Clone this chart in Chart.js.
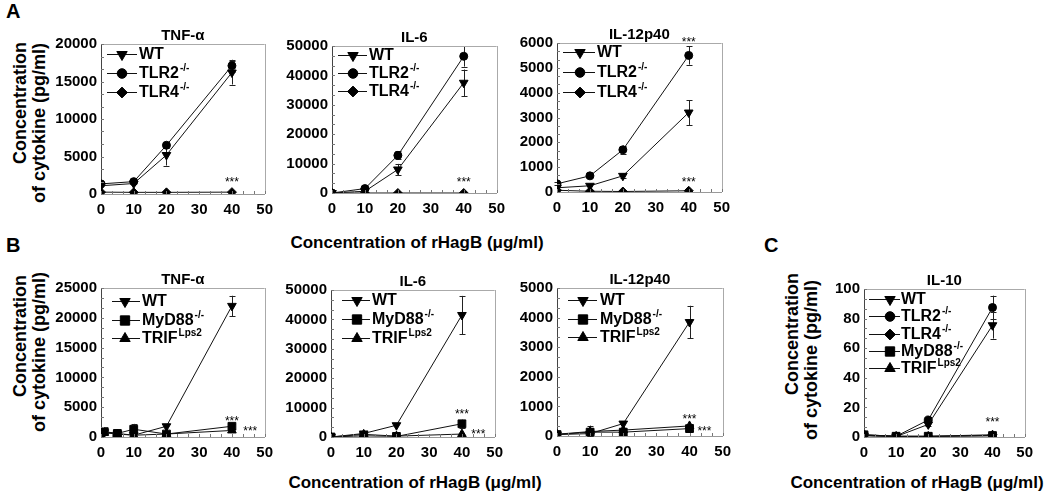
<!DOCTYPE html>
<html>
<head>
<meta charset="utf-8">
<script src="https://cdn.jsdelivr.net/npm/chart.js"></script>
<style>
  body { margin:0; background:#fff; width:1050px; height:502px; position:relative; overflow:hidden;
         font-family:"Liberation Sans", Arial, sans-serif; font-weight:bold; color:#000; }
  canvas { position:absolute; }
  .t { position:absolute; white-space:nowrap; transform:translate(-50%,-50%); }
  .lbl { font-size:17px; }
  .v { position:absolute; white-space:nowrap; font-size:18px; transform:translate(-50%,-50%) rotate(-90deg); }
  .letter { position:absolute; font-size:20px; }
</style>
</head>
<body>

<div class="letter" style="left:6px;top:0px">A</div>
<div class="letter" style="left:6px;top:234px">B</div>
<div class="letter" style="left:764px;top:234px">C</div>

<div class="v" style="left:20px;top:103px">Concentration</div>
<div class="v" style="left:39px;top:123px">of cytokine (pg/ml)</div>
<div class="v" style="left:20px;top:336px">Concentration</div>
<div class="v" style="left:39px;top:352px">of cytokine (pg/ml)</div>
<div class="v" style="left:792px;top:334px">Concentration</div>
<div class="v" style="left:811px;top:360px">of cytokine (pg/ml)</div>

<div class="t lbl" style="left:417px;top:243px">Concentration of rHagB (μg/ml)</div>
<div class="t lbl" style="left:415px;top:483px">Concentration of rHagB (μg/ml)</div>
<div class="t lbl" style="left:917px;top:483px">Concentration of rHagB (μg/ml)</div>

<script>
// ---- data ----
var doses = [0, 10, 20, 40];
var dosesB1 = [0, 1, 5, 10, 20, 40];

// A - TNF-a
var tnfA_WT = [1100, 1400, 5200, 16200];
var tnfA_WT_err = [0, 0, 1400, 1600];
var tnfA_TLR2 = [1350, 1650, 6500, 17100];
var tnfA_TLR2_err = [0, 0, 300, 800];
var tnfA_TLR4 = [250, 220, 220, 250];

// A - IL-6
var il6A_WT = [0, 600, 8000, 37500];
var il6A_WT_err = [0, 300, 1900, 4500];
var il6A_TLR2 = [0, 1500, 12800, 46500];
var il6A_TLR2_err = [0, 0, 1400, 3500];
var il6A_TLR4 = [0, 0, 0, 0];

// A - IL-12p40
var il12A_WT = [170, 250, 650, 3200];
var il12A_WT_err = [0, 0, 80, 500];
var il12A_TLR2 = [330, 650, 1700, 5500];
var il12A_TLR2_err = [60, 50, 170, 370];
var il12A_TLR4 = [70, 30, 20, 50];

// B - TNF-a
var tnfB_WT = [300, 800, 600, 300, 1800, 22000];
var tnfB_WT_err = [0, 0, 0, 0, 0, 1700];
var tnfB_MyD88 = [400, 900, 600, 1300, 500, 1800];
var tnfB_MyD88_err = [0, 0, 0, 900, 0, 400];
var tnfB_TRIF = [200, 700, 500, 300, 500, 1100];
var tnfB_TRIF_err = [0, 0, 0, 0, 0, 300];

// B - IL-6
var il6B_WT = [0, 1200, 4000, 41500];
var il6B_WT_err = [0, 700, 0, 6500];
var il6B_MyD88 = [0, 400, 200, 4500];
var il6B_MyD88_err = [0, 0, 0, 1400];
var il6B_TRIF = [0, 900, 300, 1000];

// B - IL-12p40
var il12B_WT = [50, 80, 420, 3850];
var il12B_WT_err = [0, 0, 0, 550];
var il12B_MyD88 = [50, 130, 130, 250];
var il12B_MyD88_err = [0, 150, 0, 80];
var il12B_TRIF = [60, 150, 200, 340];
var il12B_TRIF_err = [0, 200, 0, 80];

// C - IL-10
var il10_WT = [1, 0.3, 8.5, 75.5];
var il10_WT_err = [0, 0, 1, 9];
var il10_TLR2 = [1.5, 0.5, 11.5, 87.5];
var il10_TLR2_err = [0, 0, 1, 8];
var il10_TLR4 = [1, 0.5, 0.5, 1.5];
var il10_MyD88 = [1.5, 0.5, 0.5, 1];
var il10_TRIF = [1, 0.3, 0.3, 0.8];

// significance marks [x, y] in data units
var starsA1 = [[40, 1500]];
var starsA2 = [[40, 3400]];
var starsA3 = [[40, 6000], [40, 380]];
var starsB1 = [[40, 2600], [45.6, 850]];
var starsB2 = [[40, 7600], [45, 700]];
var starsB3 = [[40, 560], [44.5, 130]];
var starsC = [[40, 9.5]];

var markers = {
  WT:    {pointStyle: 'triangle', rotation: 180, radius: 5},
  TLR2:  {pointStyle: 'circle',   rotation: 0,   radius: 4},
  TLR4:  {pointStyle: 'rectRot',  rotation: 0,   radius: 4.5},
  MyD88: {pointStyle: 'rect',     rotation: 0,   radius: 5.5},
  TRIF:  {pointStyle: 'triangle', rotation: 0,   radius: 5}
};
var sups = {WT: '', TLR2: '-/-', TLR4: '-/-', MyD88: '-/-', TRIF: 'Lps2'};

var FONT = '"Liberation Sans", Arial, sans-serif';

function drawMarker(ctx, m, x, y, scale) {
  if (Chart.helpers && Chart.helpers.drawPoint) {
    Chart.helpers.drawPoint(ctx, {pointStyle: m.pointStyle, rotation: m.rotation, radius: m.radius * scale, borderWidth: 1}, x, y);
  }
}

var decor = {
  id: 'decor',
  beforeDatasetsDraw: function (chart, args, o) {
    var ctx = chart.ctx, xs = chart.scales.x, ys = chart.scales.y;
    ctx.save();
    ctx.strokeStyle = '#222';
    ctx.lineWidth = 1;
    chart.data.datasets.forEach(function (ds) {
      if (!ds.errs) return;
      ds.data.forEach(function (p, j) {
        var e = ds.errs[j];
        if (!e) return;
        var px = Math.round(xs.getPixelForValue(p.x)) + 0.5;
        var y1 = ys.getPixelForValue(p.y + e), y2 = ys.getPixelForValue(Math.max(p.y - e, 0));
        ctx.beginPath();
        ctx.moveTo(px, y1); ctx.lineTo(px, y2);
        ctx.moveTo(px - 3, Math.round(y1) + 0.5); ctx.lineTo(px + 3, Math.round(y1) + 0.5);
        ctx.moveTo(px - 3, Math.round(y2) + 0.5); ctx.lineTo(px + 3, Math.round(y2) + 0.5);
        ctx.stroke();
      });
    });
    ctx.restore();
  },
  afterDraw: function (chart, args, o) {
    var ctx = chart.ctx, a = chart.chartArea, xs = chart.scales.x, ys = chart.scales.y;
    ctx.save();
    // frame top / right
    ctx.strokeStyle = '#aaa';
    ctx.lineWidth = 1;
    ctx.beginPath();
    ctx.moveTo(a.left, Math.round(a.top) + 0.5); ctx.lineTo(a.right, Math.round(a.top) + 0.5);
    ctx.moveTo(Math.round(a.right) + 0.5, a.top); ctx.lineTo(Math.round(a.right) + 0.5, a.bottom);
    ctx.stroke();
    // minor ticks
    ctx.strokeStyle = '#777';
    ctx.beginPath();
    for (var v = 0; v <= 50.01; v += 10 / 3) {
      var px = Math.round(xs.getPixelForValue(v)) + 0.5;
      ctx.moveTo(px, a.bottom); ctx.lineTo(px, a.bottom - 3);
    }
    var st = o.yStep / 3;
    for (var w = 0; w <= ys.max + 1e-6; w += st) {
      var py = Math.round(ys.getPixelForValue(w)) + 0.5;
      ctx.moveTo(a.left, py); ctx.lineTo(a.left + 3, py);
    }
    ctx.stroke();
    // title
    ctx.fillStyle = '#000';
    ctx.font = 'bold 15px ' + FONT;
    ctx.textAlign = 'center';
    ctx.textBaseline = 'middle';
    ctx.fillText(o.title, (a.left + a.right) / 2, a.top - 8);
    // stars
    ctx.font = '12px ' + FONT;
    o.stars.forEach(function (s) {
      ctx.fillText('***', xs.getPixelForValue(s[0]), ys.getPixelForValue(s[1]));
    });
    // legend
    var L = o.legend;
    chart.data.datasets.forEach(function (ds, i) {
      var y = Math.round(a.top + L.y0 + i * L.gap) + 0.5;
      ctx.strokeStyle = '#111';
      ctx.beginPath();
      ctx.moveTo(a.left + L.x0, y); ctx.lineTo(a.left + L.x1, y);
      ctx.stroke();
      ctx.fillStyle = '#000';
      ctx.strokeStyle = '#000';
      drawMarker(ctx, markers[ds.name], a.left + L.xm, y, 1.2);
      ctx.textAlign = 'left';
      ctx.textBaseline = 'middle';
      ctx.font = 'bold 16px ' + FONT;
      ctx.fillText(ds.name, a.left + L.xt, y);
      var tw = ctx.measureText(ds.name).width;
      if (sups[ds.name]) {
        ctx.font = 'bold 10px ' + FONT;
        ctx.fillText(sups[ds.name], a.left + L.xt + tw + 1, y - 5);
      }
    });
    ctx.restore();
  }
};

function plain(v) { return String(v); }

function makePanel(box, title, xs, series, yMax, yStep, stars, legend) {
  var cv = document.createElement('canvas');
  var padL = 60, padT = 30, padR = 10, padB = 30;
  cv.width = box.right - box.left + padL + padR;
  cv.height = box.bottom - box.top + padT + padB;
  cv.style.left = (box.left - padL) + 'px';
  cv.style.top = (box.top - padT) + 'px';
  document.body.appendChild(cv);

  var datasets = series.map(function (s) {
    var m = markers[s.name];
    return {
      label: s.name + sups[s.name],
      name: s.name,
      data: xs.map(function (x, i) { return {x: x, y: s.data[i]}; }),
      errs: s.err,
      borderColor: '#111',
      borderWidth: 1,
      backgroundColor: '#000',
      pointBackgroundColor: '#000',
      pointBorderColor: '#000',
      pointBorderWidth: 1,
      pointStyle: m.pointStyle,
      pointRotation: m.rotation,
      pointRadius: m.radius,
      tension: 0
    };
  });

  return new Chart(cv, {
    type: 'line',
    data: {datasets: datasets},
    options: {
      responsive: false,
      animation: false,
      events: [],
      layout: {padding: {left: 0, top: padT, right: padR, bottom: 0}},
      plugins: {
        legend: {display: false},
        tooltip: {enabled: false},
        decor: {title: title, stars: stars, legend: legend, yStep: yStep}
      },
      scales: {
        x: {
          type: 'linear', min: 0, max: 50,
          ticks: {stepSize: 10, color: '#000', padding: 7, maxRotation: 0, callback: plain,
                  font: {family: FONT, size: 15, weight: 'bold'}},
          grid: {display: false, drawTicks: false},
          border: {color: '#999'},
          afterFit: function (s) { s.height = padB; }
        },
        y: {
          type: 'linear', min: 0, max: yMax,
          ticks: {stepSize: yStep, color: '#000', padding: 4, callback: plain,
                  font: {family: FONT, size: 15, weight: 'bold'}},
          grid: {display: false, drawTicks: false},
          border: {color: '#444'},
          afterFit: function (s) { s.width = padL; }
        }
      }
    },
    plugins: [decor]
  });
}

// ---- row A ----
makePanel({left: 101, top: 44, right: 270, bottom: 194}, 'TNF-α', doses, [
  {name: 'WT', data: tnfA_WT, err: tnfA_WT_err},
  {name: 'TLR2', data: tnfA_TLR2, err: tnfA_TLR2_err},
  {name: 'TLR4', data: tnfA_TLR4}
], 20000, 5000, starsA1, {y0: 10, gap: 19, x0: 6, x1: 36, xm: 21, xt: 38});

makePanel({left: 332, top: 46, right: 502, bottom: 193}, 'IL-6', doses, [
  {name: 'WT', data: il6A_WT, err: il6A_WT_err},
  {name: 'TLR2', data: il6A_TLR2, err: il6A_TLR2_err},
  {name: 'TLR4', data: il6A_TLR4}
], 50000, 10000, starsA2, {y0: 9, gap: 18, x0: 6, x1: 35, xm: 21, xt: 37});

makePanel({left: 557, top: 43, right: 727, bottom: 192}, 'IL-12p40', doses, [
  {name: 'WT', data: il12A_WT, err: il12A_WT_err},
  {name: 'TLR2', data: il12A_TLR2, err: il12A_TLR2_err},
  {name: 'TLR4', data: il12A_TLR4}
], 6000, 1000, starsA3, {y0: 9, gap: 20, x0: 6, x1: 38, xm: 23, xt: 40});

// ---- row B ----
makePanel({left: 101, top: 288, right: 270, bottom: 437}, 'TNF-α', dosesB1, [
  {name: 'WT', data: tnfB_WT, err: tnfB_WT_err},
  {name: 'MyD88', data: tnfB_MyD88, err: tnfB_MyD88_err},
  {name: 'TRIF', data: tnfB_TRIF, err: tnfB_TRIF_err}
], 25000, 5000, starsB1, {y0: 13, gap: 18.5, x0: 11, x1: 39, xm: 24, xt: 41});

makePanel({left: 331, top: 290, right: 500, bottom: 437}, 'IL-6', doses, [
  {name: 'WT', data: il6B_WT, err: il6B_WT_err},
  {name: 'MyD88', data: il6B_MyD88, err: il6B_MyD88_err},
  {name: 'TRIF', data: il6B_TRIF}
], 50000, 10000, starsB2, {y0: 10, gap: 19, x0: 11, x1: 39, xm: 26, xt: 41});

makePanel({left: 557, top: 288, right: 728, bottom: 436}, 'IL-12p40', doses, [
  {name: 'WT', data: il12B_WT, err: il12B_WT_err},
  {name: 'MyD88', data: il12B_MyD88, err: il12B_MyD88_err},
  {name: 'TRIF', data: il12B_TRIF, err: il12B_TRIF_err}
], 5000, 1000, starsB3, {y0: 12, gap: 18.5, x0: 11, x1: 40, xm: 26, xt: 43});

// ---- C ----
makePanel({left: 864, top: 289, right: 1030, bottom: 437}, 'IL-10', doses, [
  {name: 'WT', data: il10_WT, err: il10_WT_err},
  {name: 'TLR2', data: il10_TLR2, err: il10_TLR2_err},
  {name: 'TLR4', data: il10_TLR4},
  {name: 'MyD88', data: il10_MyD88},
  {name: 'TRIF', data: il10_TRIF}
], 100, 20, starsC, {y0: 10, gap: 17.3, x0: 5, x1: 36, xm: 26, xt: 37});
</script>
</body>
</html>
